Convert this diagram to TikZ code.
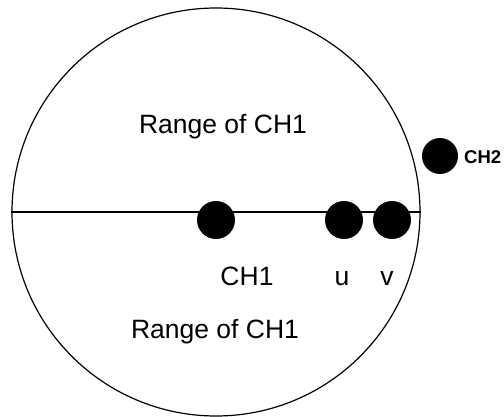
\documentclass[tikz,border=0pt]{standalone}
\usepackage{fontspec}
\setmainfont{Liberation Sans}
\usepackage{tikz}
\usetikzlibrary{positioning}

\begin{document}
\begin{tikzpicture}[
  x=1pt, y=-1pt,
  rangering/.style={
    draw=black,
    circle,
    line width=1.2pt,
    minimum size=408pt,
    inner sep=0pt
  },
  sensordot/.style={
    circle,
    fill=black,
    minimum size=38pt,
    inner sep=0pt
  },
  biglabel/.style={font=\fontsize{26.5}{30}\selectfont, inner sep=0pt},
  smalllabel/.style={font=\fontsize{18.5}{21}\selectfont\bfseries, inner sep=0pt}
]
  \useasboundingbox (0,0) rectangle (504,417);

  % Range circle of CH1 and its diameter
  \node[rangering] (ch1_range) at (216,212) {};
  \draw[line width=1.2pt] (ch1_range.west) -- (ch1_range.east);

  % Nodes on the line
  \node[sensordot] (ch1_dot) at (216,220) {};
  \node[sensordot] (u_dot) at (344,220) {};
  \node[sensordot] (v_dot) at (392,220) {};

  % Second cluster head outside the range
  \node[sensordot, minimum size=36pt] (ch2_dot) at (440,156) {};
  \node[smalllabel, anchor=west] (ch2_label) at (464,157) {CH2};

  % Labels
  \node[biglabel] (range_top) at (223,127) {Range of CH1};
  \node[biglabel] (range_bottom) at (215,332) {Range of CH1};
  \node[biglabel, anchor=base] (ch1_label) at (247,285) {CH1};
  \node[biglabel, anchor=base] (u_label) at (342,285) {u};
  \node[biglabel, anchor=base] (v_label) at (387,285) {v};

\end{tikzpicture}
\end{document}
